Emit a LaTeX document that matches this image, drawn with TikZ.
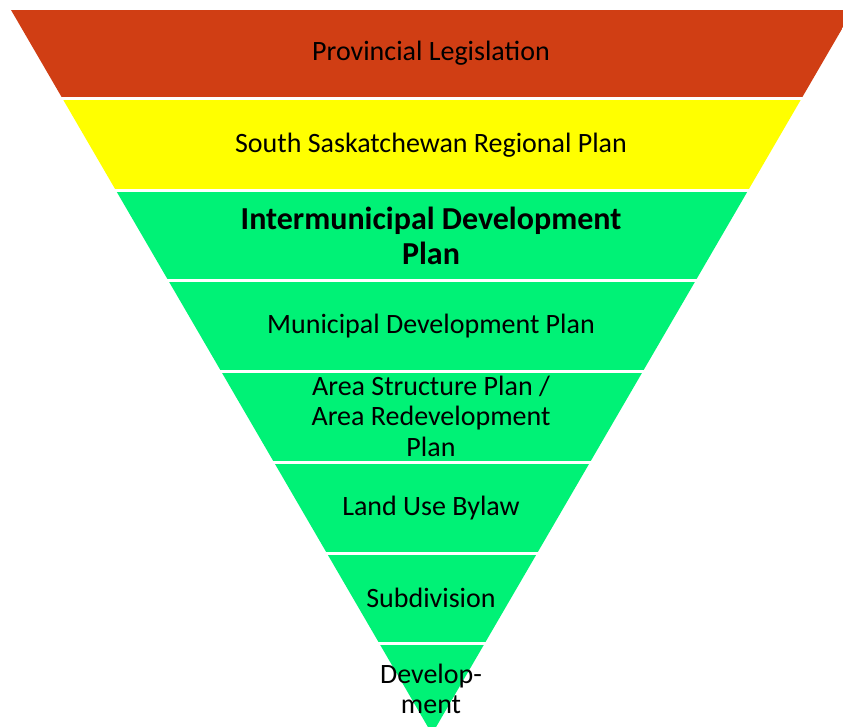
\documentclass[tikz,border=0pt]{standalone}
\usepackage{fontspec}
\setmainfont{Carlito}
\usepackage{tikz}
\definecolor{provred}{RGB}{208,62,20}
\definecolor{planyellow}{RGB}{255,255,0}
\definecolor{plangreen}{RGB}{0,242,118}
\tikzset{bandtext/.style={align=center, inner sep=0pt, font=\fontsize{28}{30.5}\selectfont}}

\begin{document}
\begin{tikzpicture}[x=1pt, y=-1pt]
	\useasboundingbox (0,0) rectangle (843,727);
	\begin{scope}
		\clip (0,0) rectangle (843,727);
		\clip (11,10) -- (853,10) -- (432,734) -- cycle;
		\foreach \top/\bot/\col in {10/97/provred, 100/189/planyellow, 192/279.5/plangreen, 282.5/370/plangreen, 373/460.5/plangreen, 463.5/551.5/plangreen, 554.5/642/plangreen, 645/740/plangreen}
		\fill[\col] (0,\top) rectangle (860,\bot);
	\end{scope}
	\node[bandtext] (prov) at (431,53) {Provincial Legislation};
	\node[bandtext] (ssrp) at (431,145) {South Saskatchewan Regional Plan};
	\node[bandtext, font=\fontsize{32}{35}\selectfont\bfseries] (idp) at (431,236) {Intermunicipal Development\\Plan};
	\node[bandtext] (mdp) at (431,326) {Municipal Development Plan};
	\node[bandtext] (asp) at (431,416) {Area Structure Plan /\\Area Redevelopment\\Plan};
	\node[bandtext] (lub) at (431,508) {Land Use Bylaw};
	\node[bandtext] (subd) at (431,598) {Subdivision};
	\node[bandtext] (dev) at (431,689) {Develop-\\ment};
\end{tikzpicture}
\end{document}
